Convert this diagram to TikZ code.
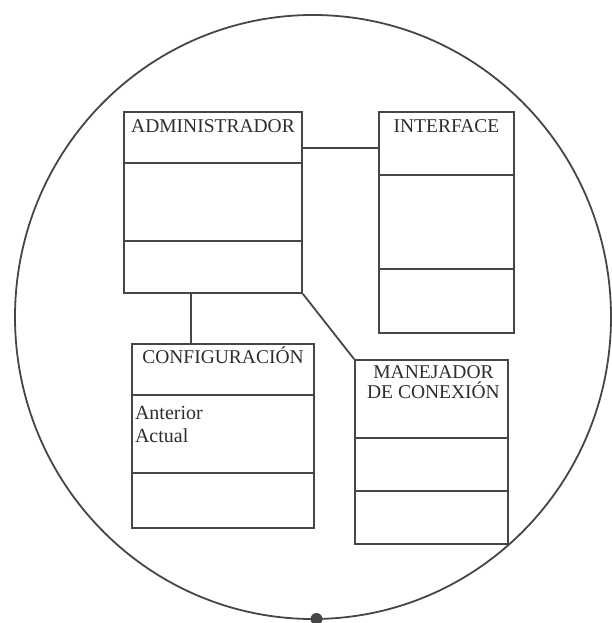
\documentclass[tikz,border=0pt]{standalone}
\usepackage{fontspec}
\setmainfont{Liberation Serif}
\usetikzlibrary{positioning,calc}
\definecolor{linea}{RGB}{70,70,70}
\definecolor{texto}{RGB}{45,45,45}
\tikzset{
  clase/.style={draw=linea,line width=1.8pt,rectangle,inner sep=0pt},
  titulo/.style={inner sep=0pt,text=texto,font=\fontsize{19.5}{20}\selectfont,align=center,anchor=base},
  attr/.style={inner sep=0pt,text=texto,font=\fontsize{20}{23}\selectfont,align=left,anchor=base west},
}

\begin{document}
\begin{tikzpicture}[x=1pt,y=-1pt,color=linea,line width=1.8pt]
 \useasboundingbox (0,0) rectangle (612,623);
 % contorno
 \draw (313,317) ellipse [x radius=298,y radius=302];
 \fill (316.5,619) circle (6);
 % clases
 \node[clase,minimum width=178pt,minimum height=181pt] (adm) at (213,202.5){};
 \node[clase,minimum width=135pt,minimum height=221pt] (int) at (446.5,222.5){};
 \node[clase,minimum width=182pt,minimum height=184pt] (conf) at (223,436){};
 \node[clase,minimum width=153pt,minimum height=184pt] (man) at (431.5,452){};
 \foreach \n/\d in {adm/52,adm/130,int/64,int/158,conf/52,conf/130,man/79,man/132}{
   \draw ([yshift=-\d pt]\n.north west) -- ([yshift=-\d pt]\n.north east);
 }
 % nombres
 \node[titulo] (admT) at ($(adm.north)+(0,21)$) {ADMINISTRADOR};
 \node[titulo] (intT) at ($(int.north)+(0,21)$) {INTERFACE};
 \node[titulo] (confT) at ($(conf.north)+(0,20)$) {CONFIGURACIÓN};
 \node[titulo] (manT) at ($(man.north)+(2,39)$) {MANEJADOR\\DE CONEXIÓN};
 \node[attr] (confA) at ($(conf.north west)+(3,99)$) {Anterior\\Actual};
 % relaciones
 \coordinate (r1) at ([yshift=-37pt]adm.north east);
 \draw (r1) -- (r1 -| int.west);
 \coordinate (r2) at ([xshift=-22pt]adm.south);
 \draw (r2) -- (r2 |- conf.north);
 \draw (adm.south east) -- (man.north west);
\end{tikzpicture}
\end{document}
